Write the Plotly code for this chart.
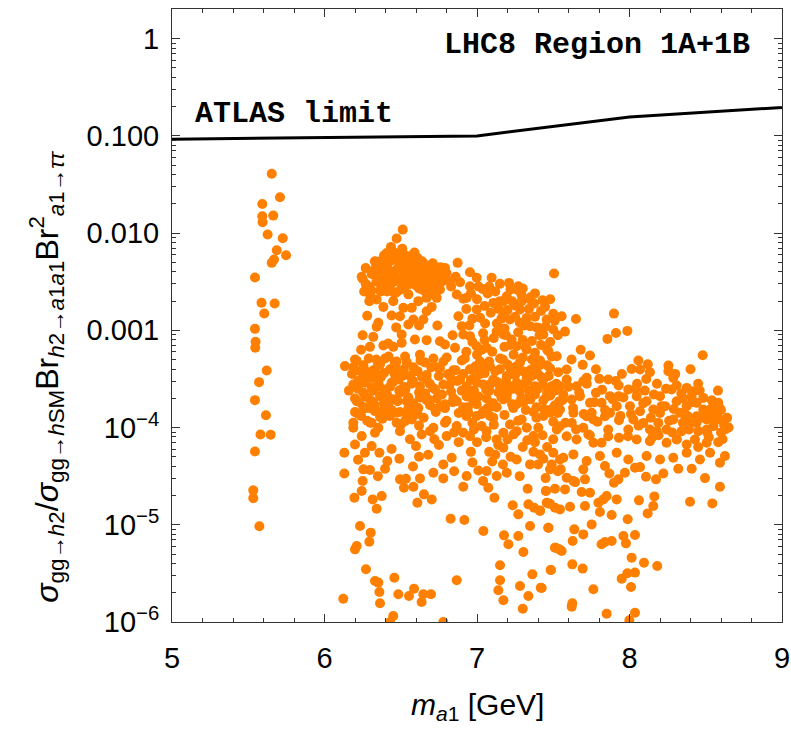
import plotly.graph_objects as go

# ---------------- data (m_a1 in GeV, log10 of the cross-section ratio) ----------------
atlas_mass = [5.0, 7.0, 8.0, 9.0]
atlas_limit = [0.0925, 0.100, 0.156, 0.196]

strip_points = [
    (5.654, -1.389), (5.708, -1.632), (5.592, -1.70), (5.664, -1.82), (5.592, -1.827),
    (5.594, -1.889), (5.627, -2.015), (5.726, -2.053), (5.687, -2.177), (5.748, -2.228),
    (5.669, -2.272), (5.654, -2.306), (5.544, -2.457), (5.587, -2.717), (5.673, -2.724),
    (5.605, -2.827), (5.544, -2.985), (5.548, -3.118), (5.546, -3.18), (5.621, -3.413),
    (5.571, -3.533), (5.544, -3.718), (5.616, -3.873), (5.58, -4.071), (5.647, -4.074),
    (5.544, -4.246), (5.533, -4.646), (5.533, -4.726), (5.573, -5.016),
]

upper_band_points = [
    (6.513, -1.964), (6.473, -2.056), (6.436, -2.142), (6.408, -2.204), (6.462, -2.204), (6.506, -2.231),
    (6.556, -2.238), (6.609, -2.255), (6.364, -2.289), (6.43, -2.289), (6.495, -2.30), (6.56, -2.313),
    (6.659, -2.324), (6.714, -2.334), (6.79, -2.358), (6.873, -2.306), (6.309, -2.392), (6.244, -2.45),
    (6.364, -2.375), (6.418, -2.375), (6.473, -2.375), (6.528, -2.375), (6.583, -2.375), (6.626, -2.392),
    (6.681, -2.402), (6.736, -2.409), (6.342, -2.443), (6.397, -2.45), (6.451, -2.443), (6.506, -2.46),
    (6.561, -2.45), (6.615, -2.471), (6.67, -2.478), (6.725, -2.495), (6.386, -2.512), (6.44, -2.519),
    (6.495, -2.505), (6.55, -2.529), (6.6, -2.539), (6.757, -2.512), (6.954, -2.402), (6.998, -2.46),
    (7.096, -2.46), (6.823, -2.495), (6.889, -2.505), (6.954, -2.546), (7.037, -2.574), (7.15, -2.522),
    (7.21, -2.512), (7.271, -2.546), (7.30, -2.57), (7.505, -2.416), (6.309, -2.591), (6.364, -2.587),
    (6.418, -2.58), (6.473, -2.608), (6.648, -2.587), (6.692, -2.598), (6.757, -2.58), (6.867, -2.632),
    (6.25, -2.47), (6.27, -2.36), (6.29, -2.55), (6.31, -2.42), (6.33, -2.29), (6.34, -2.50), (6.36, -2.37),
    (6.37, -2.60), (6.39, -2.23), (6.40, -2.45), (6.41, -2.33), (6.43, -2.54), (6.44, -2.18), (6.45, -2.40),
    (6.47, -2.28), (6.48, -2.49), (6.49, -2.36), (6.50, -2.58), (6.52, -2.22), (6.53, -2.44), (6.54, -2.31),
    (6.56, -2.52), (6.57, -2.39), (6.58, -2.25), (6.60, -2.47), (6.61, -2.34), (6.62, -2.57), (6.64, -2.29),
    (6.65, -2.41), (6.66, -2.51), (6.68, -2.36), (6.69, -2.46), (6.71, -2.31), (6.72, -2.55), (6.74, -2.43),
    (6.76, -2.35), (6.78, -2.49), (6.80, -2.41), (6.83, -2.55), (6.86, -2.45), (6.30, -2.64), (6.46, -2.62),
    (6.55, -2.63), (6.70, -2.62), (6.42, -2.26), (6.51, -2.16), (6.59, -2.20), (6.38, -2.52), (6.63, -2.45),
    (6.26, -2.60), (6.34, -2.33), (6.48, -2.26), (6.58, -2.30), (6.64, -2.44), (6.70, -2.52), (6.52, -2.56),
    (6.41, -2.60), (6.27, -2.52),
]

upper_mid_points = [
    (6.91, -2.676), (6.294, -2.70), (6.342, -2.683), (6.451, -2.70), (6.386, -2.759), (6.517, -2.769),
    (6.572, -2.769), (6.615, -2.70), (6.67, -2.666), (6.736, -2.666), (6.703, -2.759), (6.998, -2.786),
    (7.107, -2.718), (7.14, -2.779), (7.195, -2.649), (7.173, -2.70), (7.249, -2.745), (7.293, -2.70),
    (7.348, -2.683), (7.374, -2.724), (7.446, -2.759), (7.282, -2.786), (7.326, -2.872), (6.44, -2.848),
    (6.495, -2.855), (6.353, -2.923), (6.342, -2.964), (6.55, -2.94), (6.583, -2.889), (6.648, -2.889),
    (6.67, -2.803), (6.878, -2.855), (6.9, -2.957), (6.932, -2.666), (7.053, -2.93), (7.173, -2.837),
    (7.216, -2.889), (7.348, -2.957), (7.402, -2.974), (7.457, -2.889), (7.5, -2.992), (7.435, -3.043),
    (6.32, -3.067), (6.298, -3.17), (6.386, -3.156), (6.418, -3.136), (6.451, -3.17), (6.506, -3.043),
    (6.506, -3.129), (6.593, -3.094), (6.67, -3.101), (6.757, -3.112), (6.79, -3.146), (6.856, -3.18),
    (6.91, -3.043), (6.954, -3.06), (6.998, -3.163), (7.063, -3.18), (7.129, -3.012), (7.173, -3.043),
    (7.227, -3.094), (7.26, -3.163), (7.326, -3.197), (7.38, -3.231), (7.468, -3.214), (7.523, -3.266),
    (6.93, -2.78), (6.95, -2.95), (6.97, -3.12), (7.00, -2.68), (7.02, -2.87), (7.04, -3.03), (7.07, -2.62),
    (7.09, -2.82), (7.11, -3.08), (7.13, -2.93), (7.15, -2.70), (7.18, -2.98), (7.20, -2.79), (7.22, -3.15),
    (7.25, -2.86), (7.27, -3.02), (7.29, -2.63), (7.31, -2.95), (7.34, -2.78), (7.36, -3.11), (7.38, -2.86),
    (7.41, -3.05), (7.43, -2.69), (7.45, -2.96), (7.48, -3.12), (7.50, -2.83), (7.53, -3.05), (7.08, -2.55),
    (7.22, -2.58), (7.38, -2.62), (7.0, -3.25), (7.05, -3.1), (7.1, -3.22), (7.18, -3.17), (7.24, -3.25),
    (7.3, -3.1), (7.36, -3.3), (7.42, -3.15), (6.2, -3.30), (6.24, -3.2),
    (6.96, -2.62), (7.01, -2.55), (7.05, -2.75), (7.12, -2.60), (7.16, -2.88), (7.19, -3.05), (7.23, -2.70),
    (7.26, -2.58), (7.28, -2.92), (7.32, -3.18), (7.35, -2.66), (7.39, -2.97), (7.42, -2.80), (7.46, -3.20),
    (7.48, -2.68), (7.51, -2.90), (6.97, -2.88), (7.03, -3.20), (6.93, -3.22), (6.84, -3.05), (6.74, -2.95),
    (6.62, -2.95), (6.47, -2.97), (6.28, -2.85), (6.25, -3.05),
]

middle_band_points = [
    (6.134, -3.368), (6.189, -3.557), (6.233, -3.42), (6.255, -3.36), (6.287, -3.471), (6.32, -3.41),
    (6.364, -3.35), (6.397, -3.29), (6.43, -3.40), (6.473, -3.32), (6.528, -3.27), (6.583, -3.38),
    (6.626, -3.25), (6.659, -3.33), (6.714, -3.29), (6.757, -3.39), (6.801, -3.28), (6.845, -3.41),
    (6.9, -3.31), (6.954, -3.40), (7.02, -3.32), (7.085, -3.37), (7.151, -3.29), (7.216, -3.38),
    (7.282, -3.33), (7.348, -3.41), (7.413, -3.31), (7.479, -3.39), (7.533, -3.43),
    (6.266, -3.54), (6.309, -3.591), (6.353, -3.54), (6.397, -3.608), (6.44, -3.54), (6.484, -3.505),
    (6.255, -3.643), (6.211, -3.728), (6.298, -3.711), (6.364, -3.677), (6.43, -3.711), (6.495, -3.643),
    (6.561, -3.471), (6.626, -3.574), (6.67, -3.505), (6.725, -3.608), (6.779, -3.557), (6.823, -3.471),
    (6.889, -3.505), (6.932, -3.574), (6.987, -3.471), (7.042, -3.557), (7.107, -3.505), (7.151, -3.591),
    (7.195, -3.471), (7.26, -3.54), (7.326, -3.488), (7.38, -3.574), (7.435, -3.505), (7.49, -3.574),
    (6.583, -3.75), (6.626, -3.69), (6.692, -3.77), (6.736, -3.70), (6.79, -3.80), (6.867, -3.73),
    (6.932, -3.68), (6.998, -3.76), (7.063, -3.70), (7.129, -3.79), (7.195, -3.69), (7.26, -3.76),
    (7.326, -3.70), (7.391, -3.79), (7.457, -3.68), (7.511, -3.77), (6.20, -3.841), (6.331, -3.831),
    (6.473, -3.848), (6.539, -3.865), (7.085, -3.882),
    (7.02, -3.45), (7.12, -3.42), (7.22, -3.45), (7.3, -3.42), (7.4, -3.45), (7.08, -3.62), (7.2, -3.64),
    (7.34, -3.62), (7.46, -3.64), (6.98, -3.62), (6.22, -3.60), (6.27, -3.80), (6.34, -3.45), (6.39, -3.75),
    (6.46, -3.45), (6.52, -3.58), (6.55, -3.80), (6.61, -3.42), (6.66, -3.65),
    (6.16, -3.62), (6.18, -3.45), (6.21, -3.31), (6.22, -3.52), (6.24, -3.88), (6.26, -3.40), (6.27, -3.68),
    (6.29, -3.29), (6.30, -3.95), (6.31, -3.49), (6.33, -3.77), (6.35, -3.36), (6.36, -3.58), (6.38, -3.91),
    (6.39, -3.44), (6.41, -3.66), (6.42, -3.27), (6.44, -3.82), (6.45, -3.53), (6.47, -3.39), (6.48, -3.73),
    (6.50, -3.97), (6.51, -3.47), (6.53, -3.61), (6.54, -3.33), (6.56, -3.87), (6.57, -3.55), (6.59, -3.42),
    (6.60, -3.79), (6.62, -3.64), (6.63, -3.31), (6.65, -3.90), (6.67, -3.46), (6.68, -3.71), (6.70, -3.38),
    (6.71, -3.59), (6.73, -3.84), (6.75, -3.47), (6.77, -3.66), (6.78, -3.32), (6.80, -3.93), (6.82, -3.56),
    (6.84, -3.74), (6.86, -3.41), (6.88, -3.85), (6.90, -3.62), (6.92, -3.29), (6.94, -3.79), (6.96, -3.51),
    (6.97, -3.95), (6.99, -3.37), (7.01, -3.68), (7.03, -3.86), (7.05, -3.44), (7.06, -3.61), (7.08, -3.32),
    (7.10, -3.78), (7.11, -3.97), (7.13, -3.53), (7.15, -3.40), (7.16, -3.69), (7.18, -3.87), (7.20, -3.35),
    (7.21, -3.57), (7.23, -3.76), (7.25, -3.46), (7.27, -3.93), (7.28, -3.63), (7.30, -3.28), (7.32, -3.82),
    (7.33, -3.52), (7.35, -3.71), (7.37, -3.39), (7.39, -3.90), (7.40, -3.60), (7.42, -3.48), (7.44, -3.81),
    (7.46, -3.36), (7.48, -3.67), (7.50, -3.94), (7.52, -3.55), (7.54, -3.73),
    (6.19, -3.38), (6.23, -3.74), (6.25, -3.50), (6.28, -3.93), (6.32, -3.62), (6.34, -3.30), (6.37, -3.48),
    (6.40, -3.85), (6.43, -3.58), (6.46, -3.33), (6.49, -3.62), (6.52, -3.40), (6.55, -3.69), (6.58, -3.52),
    (6.61, -3.86), (6.64, -3.48), (6.69, -3.55), (6.74, -3.38), (6.76, -3.78), (6.81, -3.45), (6.83, -3.63),
    (6.87, -3.52), (6.91, -3.45), (6.93, -3.88), (6.95, -3.65), (7.00, -3.54), (7.04, -3.36), (7.07, -3.80),
    (7.09, -3.55), (7.14, -3.64), (7.17, -3.30), (7.19, -3.52), (7.24, -3.60), (7.26, -3.37), (7.29, -3.70),
    (7.31, -3.55), (7.36, -3.47), (7.38, -3.66), (7.41, -3.36), (7.43, -3.56), (7.47, -3.47), (7.49, -3.27),
    (7.51, -3.62), (7.53, -3.85),
]

lower_left_points = [
    (6.20, -3.70), (6.255, -3.79), (6.32, -3.74), (6.386, -3.82), (6.451, -3.71), (6.222, -3.86),
    (6.298, -3.80), (6.364, -3.89), (6.418, -3.78), (6.495, -3.84), (6.539, -3.73), (6.615, -3.80),
    (6.67, -3.72), (6.725, -3.81), (6.79, -3.76), (6.845, -3.70), (6.91, -3.79), (6.976, -3.73),
    (7.042, -3.83), (7.107, -3.75), (7.173, -3.71), (7.238, -3.80), (7.304, -3.74), (7.37, -3.84),
    (7.435, -3.72), (7.49, -3.81), (6.189, -3.951), (6.189, -4.002), (6.244, -4.088), (6.309, -3.951),
    (6.331, -4.054), (6.353, -4.002), (6.429, -3.882), (6.473, -3.951), (6.495, -4.037), (6.528, -3.934),
    (6.572, -3.917), (6.637, -4.071), (6.692, -4.037), (6.714, -4.002), (6.79, -3.951), (6.801, -4.088),
    (6.867, -3.985), (6.91, -4.054), (6.954, -4.088), (6.943, -3.848), (6.998, -3.882), (7.03, -3.985),
    (7.063, -4.037), (7.107, -3.9), (7.129, -4.122), (7.173, -4.054), (7.216, -3.968), (7.26, -4.037),
    (7.293, -3.917), (7.326, -4.002), (7.37, -4.088), (7.402, -4.002), (7.435, -3.882), (7.479, -3.848),
    (7.523, -4.019), (6.13, -4.259), (6.13, -4.472), (6.20, -4.174), (6.265, -4.259), (6.309, -4.191),
    (6.36, -4.259), (6.412, -4.345), (6.491, -4.32), (6.60, -4.191), (6.255, -4.43), (6.298, -4.437),
    (6.25, -4.55), (6.397, -4.424), (6.495, -4.533), (6.534, -4.526), (6.521, -4.619), (6.583, -4.609),
    (6.626, -4.523), (6.652, -4.687), (6.609, -4.773), (6.703, -4.739), (6.714, -4.465), (6.779, -4.523),
    (6.779, -4.379), (6.834, -4.31), (6.932, -4.499), (6.91, -4.609), (7.009, -4.441), (7.063, -4.448),
    (7.074, -4.619), (7.114, -4.722), (7.129, -4.499), (7.195, -4.465), (7.234, -4.80), (7.271, -4.893),
    (7.337, -4.79), (7.374, -4.824), (7.413, -4.859), (7.468, -4.78), (7.332, -4.629), (7.452, -4.653),
    (7.511, -4.824), (7.348, -5.013), (7.468, -5.03), (7.173, -4.208), (7.26, -4.328), (7.348, -4.379),
    (7.413, -4.276), (7.479, -4.43), (7.544, -4.328), (6.196, -4.722), (6.244, -4.653), (6.316, -4.739),
    (6.342, -4.835), (6.375, -4.705), (6.233, -5.013), (6.303, -5.081), (6.294, -5.174), (6.20, -5.253),
    (6.211, -5.218), (6.272, -5.458), (6.331, -5.578), (6.353, -5.595), (6.36, -5.691), (6.364, -5.808),
    (6.123, -5.76), (6.458, -5.544), (6.484, -5.715), (6.451, -5.938), (6.554, -5.732), (6.587, -5.657),
    (6.637, -5.794), (6.648, -5.715), (6.698, -5.715), (6.827, -4.938), (6.917, -4.951), (7.042, -5.064),
    (6.867, -5.571), (7.177, -5.109), (7.206, -5.201), (7.271, -5.116), (7.304, -5.28), (7.151, -5.417),
    (7.151, -5.571), (7.14, -5.674), (7.173, -5.777), (7.282, -5.63), (7.30, -5.863), (7.337, -5.732),
    (7.363, -5.51), (7.418, -5.647), (7.483, -5.465), (7.516, -5.236), (6.779, -6.0), (6.43, -6.0),
    (7.0, -4.15), (7.08, -4.25), (7.2, -4.12), (7.3, -4.2), (7.38, -4.15), (7.46, -4.2), (7.1, -4.35),
    (7.22, -4.3), (7.4, -4.38), (7.5, -4.12), (6.96, -4.25), (6.88, -4.15), (6.75, -4.18), (6.62, -3.98),
    (6.56, -4.12), (7.06, -4.10), (7.14, -4.18), (7.24, -4.07), (7.33, -4.13), (7.43, -4.08), (6.85, -4.05),
    (6.72, -4.12), (6.98, -4.02), (6.22, -4.33), (6.35, -4.50), (6.44, -4.22), (6.58, -4.40), (6.68, -4.28),
    (6.85, -4.45), (6.97, -4.36), (7.04, -4.55), (7.17, -4.38), (7.28, -4.50), (7.37, -4.25), (7.45, -4.52),
    (7.53, -4.45), (6.62, -4.30), (7.12, -4.28),
]

upper_right_points = [
    (7.555, -2.855), (7.649, -2.883), (7.577, -3.013), (7.741, -3.259), (7.693, -3.355), (7.898, -2.828),
    (7.986, -3.006), (7.911, -3.027), (7.855, -3.088), (8.058, -3.311), (8.48, -3.256), (7.588, -3.403),
    (7.588, -3.506), (7.653, -3.575), (7.697, -3.523), (7.719, -3.489), (7.802, -3.499), (7.861, -3.506),
    (7.929, -3.568), (8.014, -3.397), (8.069, -3.403), (8.134, -3.431), (8.255, -3.362), (8.255, -3.42),
    (8.287, -3.489), (8.309, -3.568), (8.375, -3.592), (8.419, -3.626), (8.484, -3.695), (8.44, -3.746),
    (8.528, -3.814), (8.582, -3.746), (8.572, -3.866), (8.626, -4.02), (8.582, -4.15), (7.544, -3.575),
    (7.566, -3.66), (7.621, -3.712), (7.675, -3.677), (7.741, -3.746), (7.78, -3.643), (7.817, -3.746),
    (7.872, -3.677), (7.929, -3.677), (7.916, -3.78), (7.839, -3.883), (7.872, -3.849), (7.931, -3.924),
    (7.763, -3.917), (7.752, -3.849), (7.719, -3.883), (7.697, -4.003), (7.73, -4.071), (7.992, -3.609),
    (8.047, -3.677), (8.003, -3.78), (8.069, -3.832), (8.112, -3.729), (8.156, -3.814), (8.2, -3.677),
    (8.233, -3.78), (8.276, -3.609), (8.309, -3.729), (8.331, -3.849), (8.375, -3.78), (8.407, -3.677),
    (8.44, -3.883), (8.484, -3.814), (8.506, -3.917), (8.539, -3.883), (8.55, -3.986), (8.593, -3.917),
    (8.025, -3.917), (8.091, -3.952), (8.134, -4.02), (8.189, -3.952), (8.243, -4.02), (8.287, -3.917),
    (8.342, -4.037), (8.397, -3.952), (8.451, -4.037), (8.506, -4.02), (7.992, -4.02), (8.047, -4.123),
    (8.134, -4.14), (8.178, -4.037), (8.243, -4.157), (8.309, -4.123), (8.375, -4.174), (8.429, -4.123),
    (8.506, -4.157), (7.931, -4.106), (7.861, -4.089), (7.817, -4.157), (7.763, -4.157), (7.653, -4.123),
    (7.588, -4.089), (7.544, -3.986), (7.621, -3.952), (7.544, -3.814), (7.632, -3.849),
    (8.55, -3.75), (8.6, -3.82), (8.47, -3.9), (8.38, -3.88), (8.6, -4.05), (8.52, -4.1), (8.45, -4.2),
    (8.35, -3.95), (8.28, -4.05), (8.2, -3.85), (8.15, -4.1), (8.1, -3.62), (8.05, -3.55), (8.18, -3.55),
    (8.35, -3.7), (8.62, -3.97), (8.65, -4.0),
    (7.56, -3.72), (7.58, -3.95), (7.60, -3.58), (7.63, -3.80), (7.65, -4.02), (7.67, -3.64), (7.70, -3.86),
    (7.72, -3.55), (7.74, -4.08), (7.77, -3.74), (7.79, -3.94), (7.82, -3.61), (7.84, -3.82), (7.86, -4.02),
    (7.89, -3.71), (7.91, -3.52), (7.94, -3.88), (7.96, -3.69), (7.99, -4.09), (8.01, -3.86), (8.04, -3.60),
    (8.06, -3.98), (8.09, -3.75), (8.11, -3.50), (8.14, -3.90), (8.16, -3.66), (8.19, -4.08), (8.21, -3.78),
    (8.24, -3.60), (8.26, -3.93), (8.29, -3.81), (8.31, -4.12), (8.34, -3.65), (8.36, -3.86), (8.39, -4.02),
    (8.41, -3.74), (8.44, -3.95), (8.46, -3.62), (8.49, -3.88), (8.51, -4.05), (8.54, -3.72), (8.56, -3.93),
    (8.59, -3.80), (8.61, -4.12), (8.64, -3.90),
    (7.62, -3.30), (7.78, -3.40), (7.95, -3.45), (8.12, -3.35), (8.30, -3.45), (8.45, -3.55), (8.58, -3.62),
    (7.68, -3.20), (8.40, -3.40),
]

lower_right_points = [
    (8.626, -4.293), (8.593, -4.362), (8.593, -4.609), (8.543, -4.78), (8.397, -4.763), (8.495, -4.52),
    (8.408, -4.424), (8.32, -4.424), (8.222, -4.472), (8.174, -4.533), (8.108, -4.506), (8.069, -4.407),
    (8.036, -4.414), (7.97, -4.465), (7.927, -4.533), (7.898, -4.568), (7.868, -4.472), (7.839, -4.396),
    (8.163, -4.708), (8.156, -4.807), (8.119, -4.883), (8.062, -4.749), (7.988, -4.944), (8.036, -5.105),
    (7.96, -5.116), (7.977, -5.191), (7.883, -5.167), (7.839, -5.177), (7.817, -5.201), (7.752, -4.996),
    (7.697, -5.099), (7.627, -5.167), (7.638, -5.047), (7.468, -5.03), (7.511, -5.236), (7.54, -5.253),
    (7.555, -5.27), (7.485, -5.465), (7.424, -5.65), (7.625, -5.407), (7.693, -5.451), (7.763, -5.664),
    (7.625, -5.808), (7.621, -5.842), (7.85, -5.914), (7.999, -5.983), (8.036, -5.904), (8.01, -5.64),
    (7.949, -5.554), (7.986, -5.499), (8.036, -5.492), (8.014, -5.338), (8.095, -5.39), (8.182, -5.424),
    (7.883, -4.9), (7.806, -4.869), (7.796, -4.773), (7.828, -4.739), (7.85, -4.705), (7.708, -4.807),
    (7.61, -4.814), (7.544, -4.842), (7.479, -4.783), (7.457, -4.773), (7.413, -4.852), (7.452, -4.653),
    (7.511, -4.629), (7.577, -4.636), (7.632, -4.55), (7.686, -4.663), (7.741, -4.67), (7.697, -4.43),
    (7.708, -4.533), (7.643, -4.561), (7.588, -4.516), (7.549, -4.43), (7.49, -4.379), (7.435, -4.321),
    (7.719, -4.345), (7.632, -4.276), (7.566, -4.311), (7.5, -4.259), (7.806, -4.293), (7.916, -4.259),
    (7.992, -4.328), (8.112, -4.293), (8.2, -4.328), (8.287, -4.311), (8.375, -4.259), (8.462, -4.328),
    (8.528, -4.259), (7.916, -4.739),
]

# ---------------- helpers ----------------
def unzip(points):
    xs = [p[0] for p in points]
    ys = [10 ** p[1] for p in points]
    return xs, ys

ORANGE = "#FF8000"
FRAME = "#333333"
TICKFONT = dict(family="Liberation Sans, Arial, sans-serif", size=29, color="black")

fig = go.Figure()

for pts in [strip_points, upper_band_points, upper_mid_points, middle_band_points,
            lower_left_points, upper_right_points, lower_right_points]:
    xs, ys = unzip(pts)
    fig.add_trace(go.Scatter(
        x=xs, y=ys, mode="markers",
        marker=dict(color=ORANGE, size=10, line=dict(width=0)),
        showlegend=False, hoverinfo="skip",
    ))

fig.add_trace(go.Scatter(
    x=atlas_mass, y=atlas_limit, mode="lines",
    line=dict(color="black", width=3), showlegend=False, hoverinfo="skip",
))

y_tickvals = [1e-6, 1e-5, 1e-4, 1e-3, 1e-2, 1e-1, 1]
y_ticktext = ["10<sup>−6</sup>", "10<sup>−5</sup>", "10<sup>−4</sup>", "0.001", "0.010", "0.100", "1"]
y_minor = [k * 10.0 ** e for e in range(-6, 1) for k in range(2, 10)]

fig.update_xaxes(
    range=[5, 9], tickvals=[5, 6, 7, 8, 9], ticktext=["5", "6", "7", "8", "9"],
    ticks="inside", ticklen=8, tickwidth=1, tickcolor=FRAME,
    minor=dict(ticks="inside", ticklen=4, dtick=0.2, tickcolor=FRAME, tickwidth=1),
    showline=True, linecolor=FRAME, linewidth=1, mirror="allticks",
    showgrid=False, zeroline=False, tickfont=TICKFONT, ticklabelstandoff=10,
    automargin=False,
)
fig.update_yaxes(
    type="log", range=[-6, 0.305], tickvals=y_tickvals, ticktext=y_ticktext,
    ticks="inside", ticklen=8, tickwidth=1, tickcolor=FRAME,
    minor=dict(ticks="inside", ticklen=4, tickvals=y_minor, tickcolor=FRAME, tickwidth=1),
    showline=True, linecolor=FRAME, linewidth=1, mirror="allticks",
    showgrid=False, zeroline=False, tickfont=TICKFONT, ticklabelstandoff=6,
    automargin=False,
)

mono = dict(family="Liberation Mono, Courier New, monospace", size=30, color="black", weight="bold")
fig.add_annotation(x=8.80, y=-0.067, xref="x", yref="y", text="LHC8 Region 1A+1B",
                   showarrow=False, xanchor="right", yanchor="middle", font=mono)
fig.add_annotation(x=5.138, y=-0.777, xref="x", yref="y", text="ATLAS limit",
                   showarrow=False, xanchor="left", yanchor="middle", font=mono)

fig.add_annotation(
    x=0.5, y=-0.138, xref="paper", yref="paper", showarrow=False,
    text="<i>m</i><sub><i>a</i>1</sub> [GeV]", xanchor="center", yanchor="middle",
    font=dict(family="Liberation Sans, Arial, sans-serif", size=30, color="black"),
)
fig.add_annotation(
    x=-0.205, y=0.40, xref="paper", yref="paper", showarrow=False, textangle=-90,
    text=("<i>σ</i><sub>gg→<i>h</i>2</sub>/<i>σ</i><sub>gg→<i>h</i>SM</sub>"
          "Br<sub><i>h</i>2→<i>a</i>1<i>a</i>1</sub>Br<sup>2</sup><sub><i>a</i>1→<i>ττ</i></sub>"),
    xanchor="center", yanchor="middle",
    font=dict(family="Liberation Sans, Arial, sans-serif", size=32, color="black"),
)

fig.update_layout(
    width=791, height=731,
    margin=dict(l=172, r=9, t=9, b=109),
    plot_bgcolor="white", paper_bgcolor="white",
)

fig.write_html("out.html")
